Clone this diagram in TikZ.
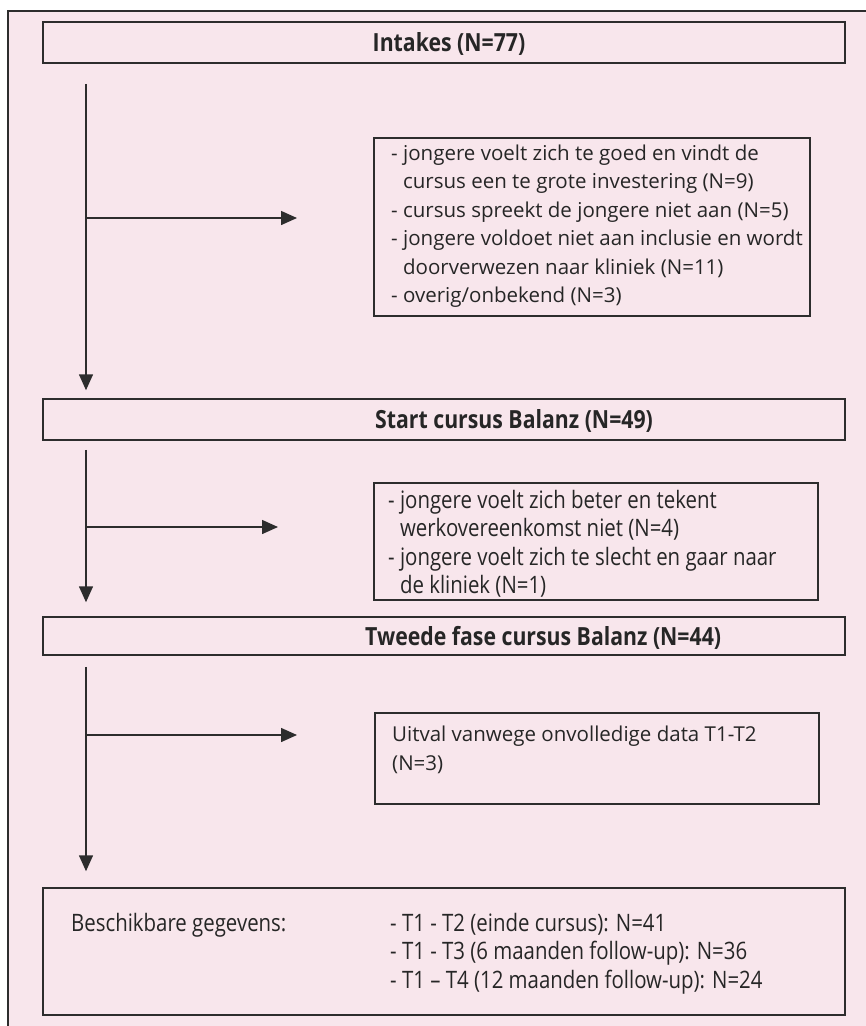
\documentclass[tikz,border=0pt]{standalone}
\usepackage{fontspec}
\setmainfont{Open Sans}
\newfontfamily\condfont[FakeStretch=0.85]{Open Sans}
\usetikzlibrary{positioning, calc, arrows.meta}

\definecolor{bgpink}{RGB}{248,230,236}
\definecolor{linegray}{RGB}{45,45,45}
\tikzset{
  box/.style={draw=linegray, line width=1.5pt, rectangle, inner sep=0pt},
  headtxt/.style={font=\condfont\bfseries\fontsize{25}{30}\selectfont, text=black!85, inner sep=0pt},
  bodytxt/.style={font=\fontsize{20.5}{28.5}\selectfont, text=black!85, align=left, inner sep=0pt},
  condtxt/.style={font=\condfont\fontsize{24}{28.5}\selectfont, text=black!85, align=left, inner sep=0pt},
  flow/.style={->, draw=linegray, line width=1.5pt},
}
\newcommand{\ind}{\hphantom{- }}

\begin{document}
\begin{tikzpicture}[x=1pt, y=-1pt, >={Triangle[length=16pt,width=14pt]}]
    \useasboundingbox (0,0) rectangle (866,1026);
    \fill[bgpink] (8,11) rectangle (866,1026);
    \draw[linegray, line width=1.5pt] (8,1026) -- (8,11) -- (866,11);

    % stages
    \node[box, minimum width=802pt, minimum height=41pt] (intake) at (444,42.5) {};
    \node[headtxt, anchor=base] (intaketxt) at (449,51.5) {Intakes (N=77)};
    \node[box, minimum width=802pt, minimum height=41pt] (start) at (444,419.5) {};
    \node[headtxt, anchor=base west] (starttxt) at (375,428) {Start cursus Balanz (N=49)};
    \node[box, minimum width=802pt, minimum height=38pt] (phase) at (444,636) {};
    \node[headtxt, anchor=base west] (phasetxt) at (365,645) {Tweede fase cursus Balanz (N=44)};
    \node[box, minimum width=802pt, minimum height=127pt] (data) at (444,951.5) {};

    % drop-out boxes
    \node[box, minimum width=436pt, minimum height=178pt, anchor=north west] (out1) at (373,137) {};
    \node[bodytxt, anchor=west] (out1txt) at (391,226) {%
        - jongere voelt zich te goed en vindt de\\
        \ind cursus een te grote investering (N=9)\\
        - cursus spreekt de jongere niet aan (N=5)\\
        - jongere voldoet niet aan inclusie en wordt\\
        \ind doorverwezen naar kliniek (N=11)\\
        - overig/onbekend (N=3)};
    \node[box, minimum width=444pt, minimum height=117pt, anchor=north west] (out2) at (373,482) {};
    \node[condtxt, anchor=west] (out2txt) at (388,544) {%
        - jongere voelt zich beter en tekent\\
        \ind werkovereenkomst niet (N=4)\\
        - jongere voelt zich te slecht en gaar naar\\
        \ind de kliniek (N=1)};
    \node[box, minimum width=444pt, minimum height=91pt, anchor=north west] (out3) at (374,712) {};
    \node[bodytxt, anchor=north west] (out3txt) at (392,726) {%
        Uitval vanwege onvolledige data T1-T2\\
        (N=3)};

    % available data
    \node[condtxt, anchor=west] (datalbl) at (71,925) {Beschikbare gegevens:};
    \node[condtxt, anchor=west] (datatxt) at (390,953.5) {%
        - T1 - T2 (einde cursus): N=41\\
        - T1 - T3 (6 maanden follow-up): N=36\\
        - T1 – T4 (12 maanden follow-up): N=24};

    % flow lines
    \coordinate (v) at (86,0);
    \draw[flow] ([yshift=-20pt]intake.south -| v) -- ([yshift=8pt]start.north -| v);
    \draw[flow] ([yshift=-9pt]start.south -| v) -- ([yshift=14pt]phase.north -| v);
    \draw[flow] ([yshift=-11pt]phase.south -| v) -- ([yshift=16pt]data.north -| v);
    \coordinate (b1) at (86,218);
    \coordinate (b2) at (86,527);
    \coordinate (b3) at (86,735);
    \draw[flow] (b1) -- ([xshift=-76pt]out1.west |- b1);
    \draw[flow] (b2) -- ([xshift=-95pt]out2.west |- b2);
    \draw[flow] (b3) -- ([xshift=-77pt]out3.west |- b3);
\end{tikzpicture}
\end{document}
